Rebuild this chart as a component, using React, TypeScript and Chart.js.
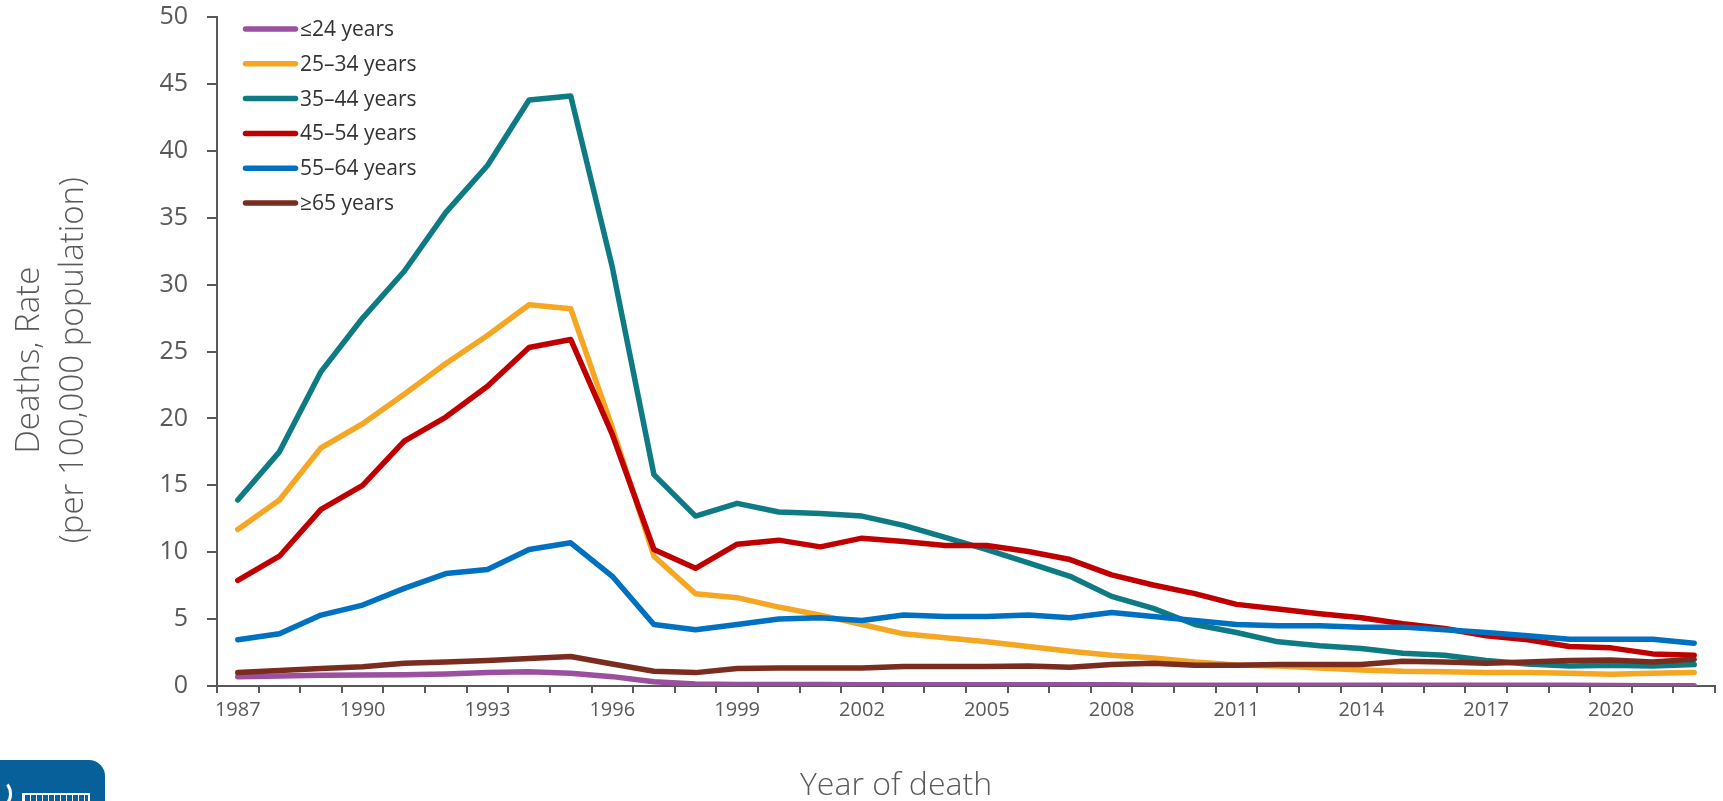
import React, { useEffect, useRef } from "react";
import { Chart, registerables } from "chart.js";

Chart.register(...registerables);

const years = [
  "1987", "1988", "1989", "1990", "1991", "1992", "1993", "1994", "1995", "1996",
  "1997", "1998", "1999", "2000", "2001", "2002", "2003", "2004", "2005", "2006",
  "2007", "2008", "2009", "2010", "2011", "2012", "2013", "2014", "2015", "2016",
  "2017", "2018", "2019", "2020", "2021", "2022",
];

const xTickLabels = ["1987", "1990", "1993", "1996", "1999", "2002", "2005", "2008", "2011", "2014", "2017", "2020"];

const seriesNames = ["≤24 years", "25–34 years", "35–44 years", "45–54 years", "55–64 years", "≥65 years"];

const age24 = [
  0.7, 0.75, 0.8, 0.82, 0.85, 0.9, 1.0, 1.07, 0.95, 0.7,
  0.32, 0.15, 0.12, 0.12, 0.12, 0.1, 0.1, 0.1, 0.1, 0.1,
  0.1, 0.1, 0.05, 0.05, 0.05, 0.05, 0.05, 0.05, 0.05, 0.05,
  0.05, 0.05, 0.05, 0.03, 0.01, 0.01,
];

const age25to34 = [
  11.7, 13.9, 17.8, 19.6, 21.8, 24.1, 26.2, 28.5, 28.2, 19.3,
  9.7, 6.9, 6.6, 5.9, 5.3, 4.6, 3.9, 3.6, 3.3, 2.95,
  2.6, 2.3, 2.1, 1.8, 1.57, 1.5, 1.35, 1.2, 1.1, 1.07,
  1.0, 1.0, 0.95, 0.87, 0.95, 1.0,
];

const age35to44 = [
  13.9, 17.5, 23.5, 27.5, 31.0, 35.4, 38.9, 43.8, 44.1, 31.3,
  15.8, 12.7, 13.65, 13.0, 12.9, 12.7, 12.0, 11.1, 10.2, 9.2,
  8.2, 6.7, 5.8, 4.6, 4.0, 3.3, 3.0, 2.8, 2.45, 2.3,
  1.9, 1.65, 1.5, 1.55, 1.5, 1.6,
];

const age45to54 = [
  7.9, 9.7, 13.2, 15.0, 18.3, 20.1, 22.4, 25.3, 25.9, 18.8,
  10.2, 8.8, 10.6, 10.9, 10.4, 11.05, 10.8, 10.5, 10.5, 10.05,
  9.45, 8.3, 7.55, 6.9, 6.1, 5.75, 5.4, 5.1, 4.65, 4.3,
  3.75, 3.45, 2.95, 2.85, 2.4, 2.3,
];

const age55to64 = [
  3.45, 3.9, 5.3, 6.05, 7.3, 8.4, 8.7, 10.2, 10.7, 8.2,
  4.6, 4.2, 4.6, 5.0, 5.1, 4.9, 5.3, 5.2, 5.2, 5.3,
  5.1, 5.5, 5.2, 4.9, 4.6, 4.5, 4.5, 4.4, 4.4, 4.2,
  4.0, 3.75, 3.5, 3.5, 3.5, 3.2,
];

const age65plus = [
  1.0, 1.15, 1.3, 1.44, 1.7, 1.8, 1.9, 2.05, 2.2, 1.65,
  1.1, 1.0, 1.3, 1.35, 1.35, 1.35, 1.45, 1.45, 1.45, 1.5,
  1.4, 1.6, 1.7, 1.55, 1.55, 1.6, 1.6, 1.6, 1.85, 1.8,
  1.7, 1.8, 1.9, 1.95, 1.8, 2.0,
];

const seriesValues = [age24, age25to34, age35to44, age45to54, age55to64, age65plus];
const seriesColors = ["#9B4F9F", "#F5A623", "#0E7A83", "#C00000", "#0070C0", "#7A2C1F"];

const yTicks = { min: 0, max: 50, step: 5 };
const yTitleLines = ["Deaths, Rate", "(per 100,000 population)"];

const FONT = "'Open Sans', 'Noto Sans', 'DejaVu Sans', sans-serif";
const AXIS_GRAY = "#595959";

const insideLegend = {
  id: "insideLegend",
  afterDraw(chart: any) {
    const { ctx, chartArea } = chart;
    ctx.save();
    ctx.font = `21px ${FONT}`;
    ctx.textBaseline = "middle";
    ctx.textAlign = "left";
    const lineStart = chartArea.left + 28.5;
    const lineLen = 50;
    const rowStep = 34.8;
    const firstY = chartArea.top + 12;
    chart.data.datasets.forEach((ds: any, i: number) => {
      const y = firstY + i * rowStep;
      ctx.strokeStyle = ds.borderColor;
      ctx.lineWidth = 5.5;
      ctx.lineCap = "round";
      ctx.beginPath();
      ctx.moveTo(lineStart, y);
      ctx.lineTo(lineStart + lineLen, y);
      ctx.stroke();
      ctx.fillStyle = "#333333";
      ctx.fillText(ds.label, lineStart + lineLen + 4.5, y + 1);
    });
    ctx.restore();
  },
};

export default function App() {
  const canvasRef = useRef<HTMLCanvasElement | null>(null);

  useEffect(() => {
    if (!canvasRef.current) return;
    const chart = new Chart(canvasRef.current, {
      type: "line",
      data: {
        labels: years,
        datasets: seriesNames.map((name, i) => ({
          label: name,
          data: seriesValues[i],
          borderColor: seriesColors[i],
          backgroundColor: seriesColors[i],
          borderWidth: 5.5,
          pointRadius: 0,
          pointHoverRadius: 0,
          tension: 0,
          fill: false,
          borderCapStyle: "round" as const,
          borderJoinStyle: "round" as const,
          order: seriesNames.length - i,
        })),
      },
      options: {
        responsive: false,
        animation: false,
        devicePixelRatio: 1,
        layout: { padding: { top: 0, right: 8, left: 0, bottom: 0 } },
        plugins: {
          legend: { display: false },
          tooltip: { enabled: false },
        },
        events: [],
        scales: {
          x: {
            type: "category",
            offset: true,
            grid: {
              offset: true,
              drawOnChartArea: false,
              drawTicks: true,
              tickLength: 7,
              color: AXIS_GRAY,
              lineWidth: 2,
            },
            border: { display: true, color: AXIS_GRAY, width: 2 },
            ticks: {
              autoSkip: false,
              maxRotation: 0,
              minRotation: 0,
              color: AXIS_GRAY,
              padding: 5,
              font: { family: FONT, size: 20 },
              callback: (_v: any, i: number) => (xTickLabels.includes(years[i]) ? years[i] : ""),
            },
            afterFit: (s: any) => {
              s.height = 115;
              s.paddingTop = 0;
            },
          },
          y: {
            min: yTicks.min,
            max: yTicks.max,
            ticks: {
              stepSize: yTicks.step,
              color: AXIS_GRAY,
              padding: 19,
              font: { family: FONT, size: 25 },
            },
            grid: {
              drawOnChartArea: false,
              drawTicks: true,
              tickLength: 10,
              color: AXIS_GRAY,
              lineWidth: 2,
            },
            border: { display: true, color: AXIS_GRAY, width: 2 },
            title: {
              display: true,
              text: yTitleLines.map((t) => t + "\u00A0\u00A0"),
              color: AXIS_GRAY,
              font: { family: FONT, size: 33, weight: "300", lineHeight: 1.33 },
              padding: { top: 8, bottom: 0 },
            },
            afterFit: (s: any) => {
              s.width = 217;
              s.paddingTop = 17;
              s.paddingBottom = 0;
            },
          },
        },
      },
      plugins: [insideLegend],
    } as any);
    return () => chart.destroy();
  }, []);

  return (
    <div
      style={{
        position: "fixed",
        left: 0,
        top: 0,
        width: 1723,
        height: 801,
        overflow: "hidden",
        background: "#ffffff",
      }}
    >
      <canvas ref={canvasRef} width={1723} height={801} style={{ display: "block" }} />
      <div
        style={{
          position: "absolute",
          left: 796,
          width: 200,
          top: 767,
          textAlign: "center",
          fontFamily: FONT,
          fontSize: 32,
          fontWeight: 300,
          lineHeight: "32px",
          color: AXIS_GRAY,
          whiteSpace: "nowrap",
        }}
      >
        Year of death
      </div>
      <div
        style={{
          position: "absolute",
          left: 0,
          top: 760,
          width: 105,
          height: 60,
          background: "#07609A",
          borderTopRightRadius: 16,
        }}
      >
        <div
          style={{
            position: "absolute",
            left: -10,
            top: 20,
            width: 16,
            height: 22,
            borderRadius: "50%",
            border: "3px solid #ffffff",
            borderLeftColor: "transparent",
            borderTopColor: "transparent",
          }}
        />
        <div
          style={{
            position: "absolute",
            left: 22,
            top: 33,
            width: 64,
            height: 20,
            border: "2px solid #ffffff",
            background:
              "repeating-linear-gradient(90deg, #ffffff 0 1px, transparent 1px 6px)",
          }}
        />
      </div>
    </div>
  );
}
